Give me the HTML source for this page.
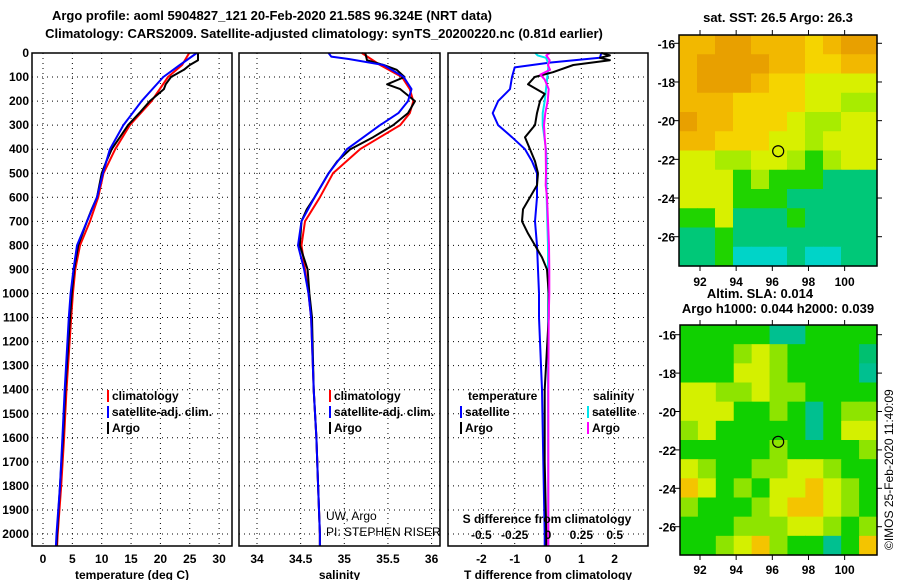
<!DOCTYPE html>
<html><head><meta charset="utf-8">
<style>
body{margin:0;background:#fff;}
svg{display:block;font-family:"Liberation Sans",sans-serif;}
.t{font-weight:bold;font-size:13px;}
.k{font-weight:bold;font-size:12px;}
</style></head>
<body>
<svg id="c" width="900" height="580" viewBox="0 0 900 580" xmlns="http://www.w3.org/2000/svg">
<text class="t" x="272" y="20" text-anchor="middle">Argo profile: aoml 5904827_121 20-Feb-2020 21.58S 96.324E (NRT data)</text>
<text class="t" x="324" y="38" text-anchor="middle">Climatology: CARS2009. Satellite-adjusted climatology: synTS_20200220.nc (0.81d earlier)</text>
<text class="t" x="778" y="22" text-anchor="middle">sat. SST: 26.5 Argo: 26.3</text>
<text class="t" x="760" y="298" text-anchor="middle">Altim. SLA: 0.014</text>
<text class="t" x="778" y="313" text-anchor="middle">Argo h1000: 0.044 h2000: 0.039</text>
<text x="893" y="550" font-size="12" transform="rotate(-90 893 550)">©IMOS 25-Feb-2020 11:40:09</text>
</svg>
<script>
// ---- data ----
const depthsUpper = [0,50,100,200,300,400,500,600,700,800,900,1000,1100,1400,1600,1800,2000,2050];
const tempClim =  [24.9,23.7,21.3,18.5,14.8,12.3,10.3,9.4,8.0,6.3,5.5,5.1,4.8,4.0,3.6,3.1,2.5,2.4];
const tempSat =   [26.2,23.3,20.5,16.8,13.7,11.4,10.2,9.2,7.5,5.8,5.2,4.7,4.4,3.7,3.3,2.9,2.3,2.2];
const argoDepths = [0,30,50,70,100,130,150,200,250,300,350,400,450,500,600,650,700,800,900,1000,1100,1400,1600,1800,2000,2050];
const tempArgo = [26.4,26.4,25.0,24.0,21.8,20.9,20.6,18.2,16.4,14.5,13.1,11.7,10.8,10.0,9.2,8.3,7.5,6.0,5.3,4.9,4.6,3.8,3.4,2.9,2.4,2.3];
const salClimDepths = [0,50,100,150,200,250,300,400,500,600,700,800,900,1000,1100,1400,1600,1800,2000,2050];
const salClim = [35.2,35.41,35.66,35.75,35.79,35.75,35.64,35.18,34.87,34.72,34.55,34.51,34.55,34.59,34.62,34.65,34.68,34.7,34.72,34.72];
const salSatDepths = [0,15,25,50,100,150,200,250,300,400,500,600,700,800,900,1000,1100,1400,1600,1800,2000,2050];
const salSat = [34.82,34.85,35.05,35.45,35.68,35.77,35.73,35.62,35.41,35.03,34.82,34.66,34.51,34.47,34.54,34.59,34.62,34.65,34.68,34.7,34.72,34.72];
const salArgo = [35.24,35.26,35.45,35.6,35.69,35.49,35.64,35.81,35.73,35.56,35.33,35.07,34.92,34.82,34.66,34.57,34.51,34.49,34.58,34.6,34.63,34.65,34.68,34.7,34.72,34.72];
const dTsatDepths = [0,20,40,60,100,150,200,250,300,350,400,450,500,600,700,800,900,1000,1100,1400,1700,2000,2050];
const dTsat = [1.6,1.56,0.05,-1.0,-1.08,-1.14,-1.5,-1.66,-1.5,-1.08,-0.69,-0.48,-0.33,-0.33,-0.39,-0.33,-0.3,-0.27,-0.27,-0.18,-0.14,-0.1,-0.1];
const dTargoDepths = [0,10,20,30,50,80,100,130,170,200,250,300,350,400,450,500,550,600,650,700,750,800,850,900,1000,1100,1400,1700,2000,2050];
const dTargo = [1.6,1.86,1.56,1.86,0.76,0.15,-0.4,-0.6,-0.1,-0.24,-0.33,-0.39,-0.69,-0.54,-0.39,-0.3,-0.33,-0.54,-0.75,-0.78,-0.6,-0.39,-0.18,-0.03,0.02,0.02,-0.1,-0.1,-0.05,-0.05];
const dSsatDepths = [0,10,20,40,60,100,150,200,250,300,400,450,500,600,700,800,900,1000,1100,1400,2000,2050];
const dSsat = [-0.38,-0.31,-0.06,0,0.01,-0.02,-0.06,-0.1,-0.16,-0.16,-0.06,-0.04,-0.05,-0.04,-0.02,0,0,0.01,0,0,0.01,0.01];
const dSargoDepths = [0,10,30,50,70,90,110,150,200,250,300,350,400,500,550,600,700,800,900,1000,1100,1400,2000,2050];
const dSargo = [0.05,-0.05,0.05,0,0.06,-0.23,-0.1,0.02,-0.01,-0.08,-0.12,-0.1,-0.07,-0.06,-0.07,-0.03,0,0.03,0.04,0.04,0.02,0.01,0.01,0.01];
const depthTicks = [0,100,200,300,400,500,600,700,800,900,1000,1100,1200,1300,1400,1500,1600,1700,1800,1900,2000];
const tTicks = [0,5,10,15,20,25,30];
const sTicks = [34,34.5,35,35.5,36];
const dtTicks = [-2,-1,0,1,2];
const dsTicks = [-0.5,-0.25,0,0.25,0.5];
const dsTickLabels = ['-0.5','-0.25','0','0.25','0.5'];
const latTicks = [-16,-18,-20,-22,-24,-26];
const lonTicks = [92,94,96,98,100];
const sstGrid = [
"ooOOoooYoOO","oOOOOooYYoo","oOOOoYYyyyy","oooYYYYyyll","OooYYYyllyy","ooYYYyylyyy",
"yyllyylglyy","yyyglgggGGG","yyygggGGGGG","ggyGGGgGGGG","GGgGGGGGGGG","GGgcccGccGG"];
const slaGrid = [
"gggggccgggg","ggglylggggG","gggyylggggc","yyllyllgggg","yyygglgcgll","lygggggcgyy",
"ggggglggggl","ylggllyylgg","oyglgyyoylg","lggglyooylg","ggglllyylgl","gglyolggcgo"];
// ---- drawing ----
const svg = document.getElementById('c');
const NS = 'http://www.w3.org/2000/svg';
function mk(tag, attrs, parent){const e=document.createElementNS(NS,tag);for(const k in attrs)e.setAttribute(k,attrs[k]);(parent||svg).appendChild(e);return e;}
const Y0=53, YS=0.2405, BOT=546;
const yD = d => Y0 + d*YS;
function panel(name, left, right, xf, ticks, labels, series, title){
  const g = mk('g',{});
  
  
  depthTicks.forEach(d=>{ if(d>0) mk('line',{x1:left,x2:right,y1:yD(d),y2:yD(d),stroke:'#000','stroke-width':1,'stroke-dasharray':'1 4'},g); });
  ticks.forEach((t,i)=>{
    const x=xf(t);
    if(x>left+2 && x<right-2) mk('line',{x1:x,x2:x,y1:Y0,y2:BOT,stroke:'#000','stroke-width':1,'stroke-dasharray':'1 4'},g);
    if(labels){const tx=mk('text',{x:x,y:563,'text-anchor':'middle',class:'k'},g);tx.textContent=labels[i];
      
      }
  });
  series.forEach(s=>{
    const pts=s.d.map((d,i)=>xf(s.v[i]).toFixed(1)+','+yD(d).toFixed(1)).join(' ');
    const p=mk('polyline',{points:pts,fill:'none',stroke:s.c,'stroke-width':2,'stroke-linejoin':'round'},g);
    
    
  });
  const r=mk('rect',{x:left,y:Y0,width:right-left,height:BOT-Y0,fill:'none',stroke:'#000','stroke-width':1.5},g);
  
  
  if(title){const tt=mk('text',{x:(left+right)/2,y:579,'text-anchor':'middle',class:'k'},g);tt.textContent=title;
    
    }
}
depthTicks.forEach(d=>{const t=mk('text',{x:29,y:yD(d)+4,'text-anchor':'end',class:'k'});t.textContent=d;
  
  });
const xT = v => 43 + v*5.87;
const xS = v => 257 + (v-34)*87.3;
const xDT = v => 548 + v*33.3;
const xDS = v => 548 + v*133.4;
panel('temperature-panel',32,232,xT,tTicks,tTicks.map(String),[
 {d:depthsUpper,v:tempClim,c:'#ff0000',n:'temp-climatology-line'},
 {d:argoDepths,v:tempArgo,c:'#000000',n:'temp-argo-line'},
 {d:depthsUpper,v:tempSat,c:'#0000ff',n:'temp-satellite-line'}],'temperature (deg C)');
panel('salinity-panel',239,440,xS,sTicks,sTicks.map(String),[
 {d:salClimDepths,v:salClim,c:'#ff0000',n:'sal-climatology-line'},
 {d:argoDepths,v:salArgo,c:'#000000',n:'sal-argo-line'},
 {d:salSatDepths,v:salSat,c:'#0000ff',n:'sal-satellite-line'}],'salinity');
panel('difference-panel',448,648,xDT,dtTicks,dtTicks.map(String),[
 {d:dTsatDepths,v:dTsat,c:'#0000ff',n:'dT-satellite-line'},
 {d:dSsatDepths,v:dSsat,c:'#00e5ee',n:'dS-satellite-line'},
 {d:dTargoDepths,v:dTargo,c:'#000000',n:'dT-argo-line'},
 {d:dSargoDepths,v:dSargo,c:'#ff00ff',n:'dS-argo-line'}],'T difference from climatology');
dsTicks.forEach((v,i)=>{const t=mk('text',{x:xDS(v),y:539,'text-anchor':'middle',class:'k'});t.textContent=dsTickLabels[i];
  
  });
{const t=mk('text',{x:547,y:523,'text-anchor':'middle',class:'k'});t.textContent='S difference from climatology';
 
 }
function legend(x,y,c,label,name){
  const g=mk('g',{});
  
  
  mk('rect',{x:x,y:y-10,width:2,height:12,fill:c},g);
  const t=mk('text',{x:x+5,y:y,class:'k'},g);t.textContent=label;
}
legend(107,400,'#ff0000','climatology','legend-climatology');
legend(107,416,'#0000ff','satellite-adj. clim.','legend-satellite-adj');
legend(107,432,'#000000','Argo','legend-argo');
legend(329,400,'#ff0000','climatology','legend-sal-climatology');
legend(329,416,'#0000ff','satellite-adj. clim.','legend-sal-satellite-adj');
legend(329,432,'#000000','Argo','legend-sal-argo');
{const t=mk('text',{x:468,y:400,class:'k'});t.textContent='temperature';
  }
{const t=mk('text',{x:593,y:400,class:'k'});t.textContent='salinity';
  }
legend(460,416,'#0000ff','satellite','legend-dT-satellite');
legend(460,432,'#000000','Argo','legend-dT-argo');
legend(587,416,'#00e5ee','satellite','legend-dS-satellite');
legend(587,432,'#ff00ff','Argo','legend-dS-argo');
{const t1=mk('text',{x:326,y:520,'font-size':12});t1.textContent='UW, Argo';
  
 const t2=mk('text',{x:326,y:536,'font-size':12});t2.textContent='PI: STEPHEN RISER';
  }
const sstCol={O:'#e8a000',o:'#f2b800',Y:'#f5d400',y:'#d8f000',l:'#a8ec00',g:'#20d400',G:'#00c878',c:'#00d4c8'};
const slaCol={g:'#10d000',G:'#00c070',l:'#8ee400',y:'#d4f000',o:'#f4c400',c:'#00c090'};
function map(name,L,R,T,B,latTop,latPer,grid,cols,circY,lonLabY){
  const g=mk('g',{});
  
  
  const lonX = v => 700 + (v-92)*18.08;
  const latY = v => latTop + (-16 - v)*latPer;
  const rows=grid.length, nc=grid[0].length, cw=(R-L)/nc, ch=(B-T)/rows;
  grid.forEach((row,r)=>{ for(let c=0;c<nc;c++){ mk('rect',{x:L+c*cw,y:T+r*ch,width:cw+0.6,height:ch+0.6,fill:cols[row[c]]||'#10d000'},g);} });
  mk('rect',{x:L,y:T,width:R-L,height:B-T,fill:'none',stroke:'#000','stroke-width':1.5},g);
  latTicks.forEach(v=>{const y=latY(v);
    mk('line',{x1:L-5,x2:L,y1:y,y2:y,stroke:'#000'},g);mk('line',{x1:R,x2:R+5,y1:y,y2:y,stroke:'#000'},g);
    const t=mk('text',{x:L-4,y:y+5,'text-anchor':'end',class:'k','font-size':13},g);t.textContent=v;
    
    });
  lonTicks.forEach(v=>{const x=lonX(v);
    mk('line',{x1:x,x2:x,y1:B,y2:B+5,stroke:'#000'},g);mk('line',{x1:x,x2:x,y1:T-5,y2:T,stroke:'#000'},g);
    const t=mk('text',{x:x,y:lonLabY,'text-anchor':'middle',class:'k','font-size':13},g);t.textContent=v;
    
    });
  const ci=mk('circle',{cx:lonX(96.324),cy:circY(latY),r:5.5,fill:'none',stroke:'#000','stroke-width':1.2},g);
  
  
}
map('sst-map',679,877,35,266,43.3,19.34,sstGrid,sstCol,ly=>ly(-21.58),286);
map('sla-map',680,877,325,555,334.7,19.2,slaGrid,slaCol,ly=>ly(-21.58),574);
</script>
</body></html>
